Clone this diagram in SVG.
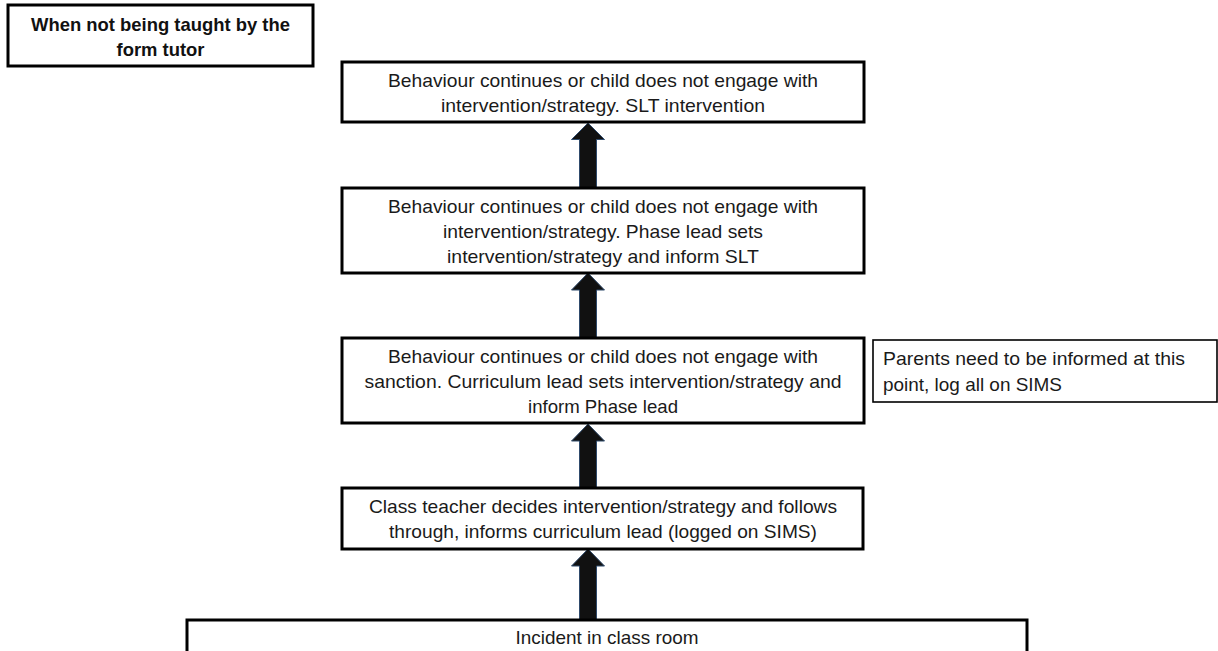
<svg xmlns="http://www.w3.org/2000/svg" width="1218" height="651" viewBox="0 0 1218 651">
<style>
.box{fill:#fff;stroke:#000;stroke-width:3}
.thin{fill:#fff;stroke:#000;stroke-width:1.6}
.t{font-family:"Liberation Sans",Arial,sans-serif;font-size:19px;fill:#1a1a1a;text-anchor:middle}
.l{font-family:"Liberation Sans",Arial,sans-serif;font-size:19px;fill:#1a1a1a}
.b{font-family:"Liberation Sans",Arial,sans-serif;font-size:18.5px;font-weight:bold;fill:#111;text-anchor:middle}
.arr{fill:#111;stroke:#2f4a6b;stroke-width:1}
</style>
<rect width="1218" height="651" fill="#fff"/>
<g id="title">
<rect class="box" x="8" y="5" width="305" height="61" stroke-width="2.5"/>
<text class="b" x="160.5" y="31" textLength="259" lengthAdjust="spacingAndGlyphs">When not being taught by the</text>
<text class="b" x="160.5" y="56" textLength="88" lengthAdjust="spacingAndGlyphs">form tutor</text>
</g>
<g id="connectors">
<path class="arr" d="M588,123 L604.5,139.5 L596.5,139.5 L596.5,188 L579.5,188 L579.5,139.5 L571.5,139.5 Z"/>
<path class="arr" d="M588,273 L604.5,290 L596.5,290 L596.5,338 L579.5,338 L579.5,290 L571.5,290 Z"/>
<path class="arr" d="M588,424 L604.5,441 L596.5,441 L596.5,488 L579.5,488 L579.5,441 L571.5,441 Z"/>
<path class="arr" d="M588,549 L604.5,566 L596.5,566 L596.5,620 L579.5,620 L579.5,566 L571.5,566 Z"/>
</g>
<g id="slt">
<rect class="box" x="342" y="62" width="522" height="60"/>
<text class="t" x="603" y="87" textLength="430" lengthAdjust="spacingAndGlyphs">Behaviour continues or child does not engage with</text>
<text class="t" x="603" y="112" textLength="324" lengthAdjust="spacingAndGlyphs">intervention/strategy. SLT intervention</text>
</g>
<g id="phase">
<rect class="box" x="342" y="188" width="522" height="85"/>
<text class="t" x="603" y="213" textLength="430" lengthAdjust="spacingAndGlyphs">Behaviour continues or child does not engage with</text>
<text class="t" x="603" y="238" textLength="320" lengthAdjust="spacingAndGlyphs">intervention/strategy. Phase lead sets</text>
<text class="t" x="603" y="263" textLength="312" lengthAdjust="spacingAndGlyphs">intervention/strategy and inform SLT</text>
</g>
<g id="curriculum">
<rect class="box" x="342" y="338" width="522" height="85"/>
<text class="t" x="603" y="363" textLength="430" lengthAdjust="spacingAndGlyphs">Behaviour continues or child does not engage with</text>
<text class="t" x="603" y="388" textLength="477" lengthAdjust="spacingAndGlyphs">sanction. Curriculum lead sets intervention/strategy and</text>
<text class="t" x="603" y="413" textLength="150" lengthAdjust="spacingAndGlyphs">inform Phase lead</text>
</g>
<g id="parents">
<rect class="thin" x="873" y="340" width="344" height="62"/>
<text class="l" x="883" y="365" textLength="302" lengthAdjust="spacingAndGlyphs">Parents need to be informed at this</text>
<text class="l" x="883" y="391" textLength="179" lengthAdjust="spacingAndGlyphs">point, log all on SIMS</text>
</g>
<g id="teacher">
<rect class="box" x="342" y="488" width="521" height="61"/>
<text class="t" x="603" y="513" textLength="468" lengthAdjust="spacingAndGlyphs">Class teacher decides intervention/strategy and follows</text>
<text class="t" x="603" y="538" textLength="428" lengthAdjust="spacingAndGlyphs">through, informs curriculum lead (logged on SIMS)</text>
</g>
<g id="incident">
<rect class="box" x="187" y="620" width="840" height="45"/>
<text class="t" x="607" y="644" textLength="183" lengthAdjust="spacingAndGlyphs">Incident in class room</text>
</g>
</svg>
